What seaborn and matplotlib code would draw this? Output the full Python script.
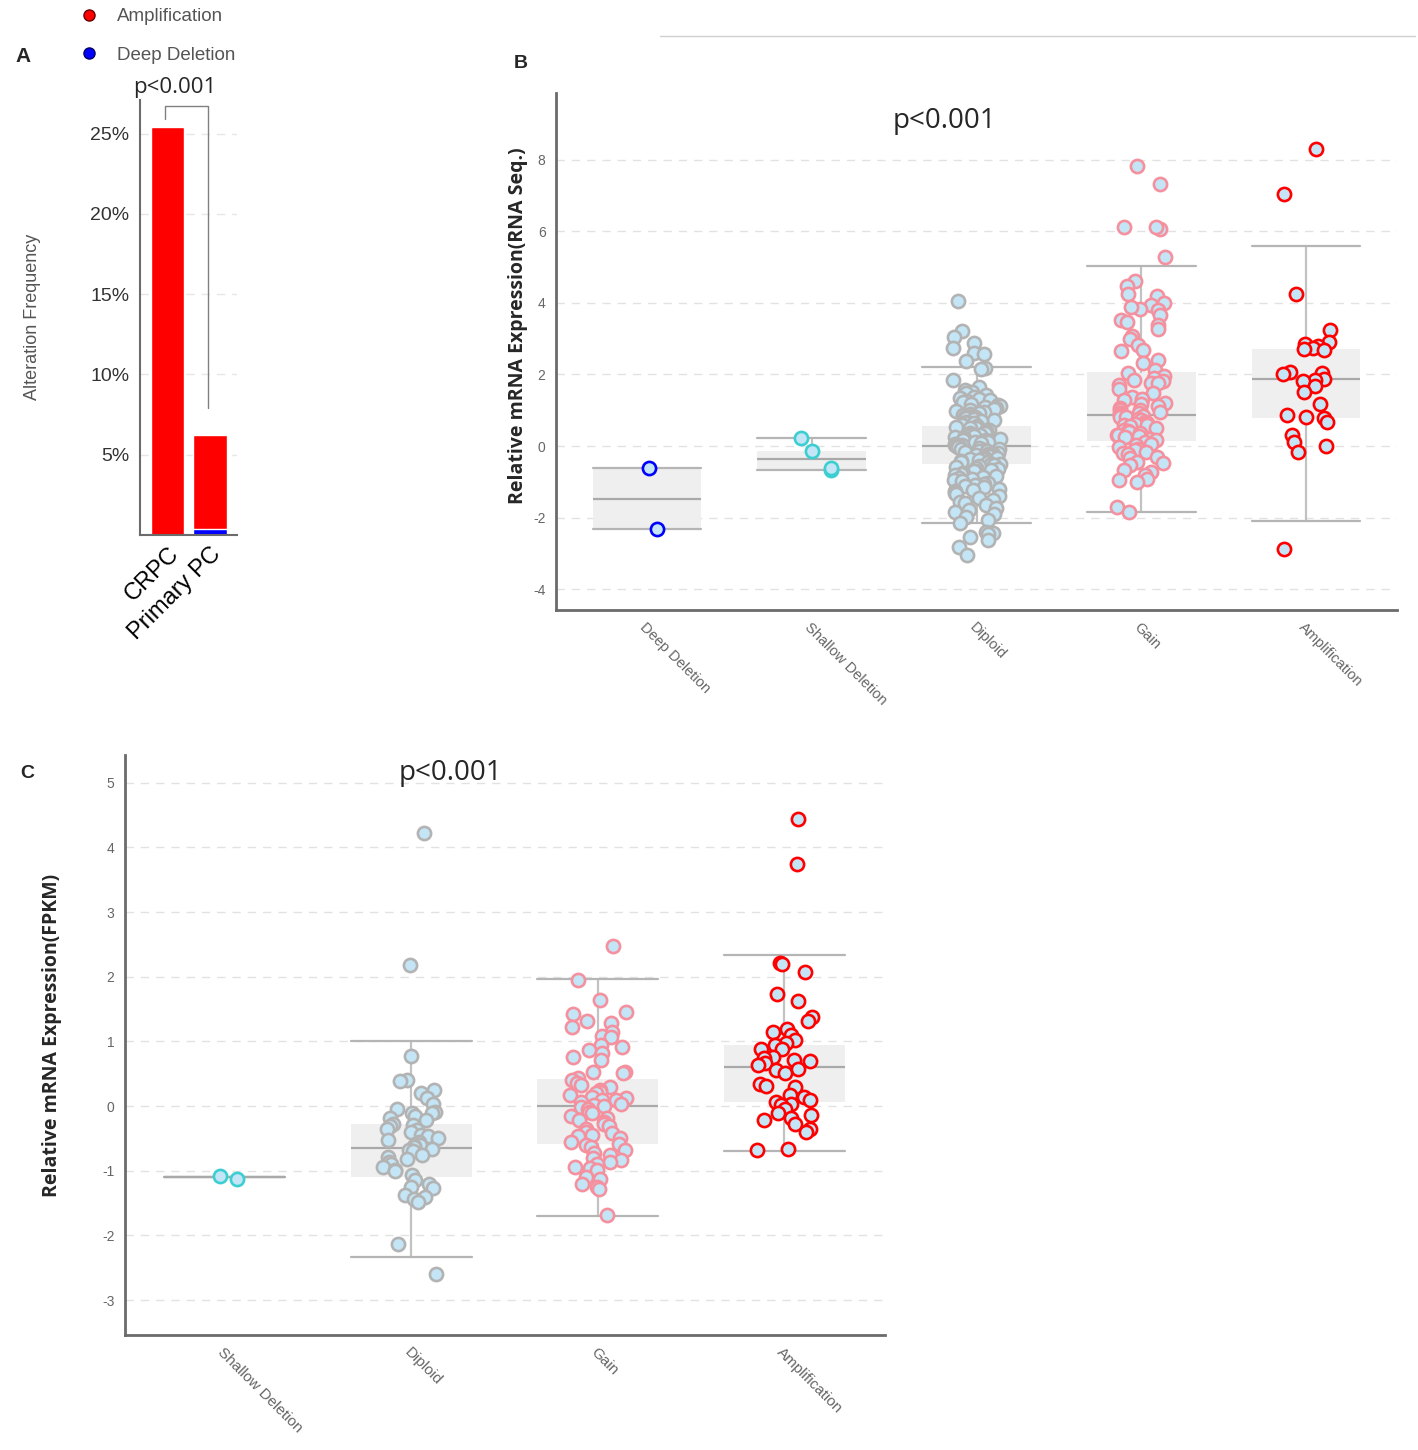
import numpy as np
import pandas as pd
import matplotlib
matplotlib.use('Agg')
import matplotlib.pyplot as plt
from matplotlib.lines import Line2D
import seaborn as sns

########## data
# Panel A - alteration frequency (%)
cohorts = ['CRPC', 'Primary PC']
amp_freq = [25.4, 5.85]
del_freq = [0.0, 0.35]

# Panel B - RNA Seq
cats_b = ['Deep Deletion', 'Shallow Deletion', 'Diploid', 'Gain', 'Amplification']
deep_b = [-0.62, -2.33]
shallow_b = [0.22, -0.13, -0.66, -0.62]
diploid_b = [4.05, 3.21, 3.05, 2.89, 2.74, 2.59, 2.57, 2.37, 2.17, 2.14, 1.84, 1.66, 1.56,
             1.5, 1.47, 1.42, 1.38, 1.35, 1.31, 1.28, 1.25, 1.22, 1.18, 1.15, 1.12, 1.1, 1.06,
             1.03, 1.0, 0.98, 0.95, 0.92, 0.9, 0.87, 0.85, 0.82, 0.8, 0.77, 0.75, 0.72, 0.7,
             0.68, 0.65, 0.63, 0.6, 0.58, 0.56, 0.53, 0.51, 0.49, 0.46, 0.44, 0.42, 0.4, 0.37,
             0.35, 0.33, 0.31, 0.29, 0.27, 0.25, 0.22, 0.2, 0.18, 0.16, 0.14, 0.12, 0.1, 0.08,
             0.06, 0.04, 0.02, 0.01, -0.01, -0.03, -0.05, -0.07, -0.09, -0.11, -0.13, -0.15,
             -0.17, -0.19, -0.21, -0.23, -0.25, -0.27, -0.29, -0.31, -0.33, -0.35, -0.37, -0.4,
             -0.42, -0.44, -0.46, -0.49, -0.51, -0.53, -0.56, -0.58, -0.61, -0.63, -0.66, -0.69,
             -0.71, -0.74, -0.77, -0.8, -0.83, -0.86, -0.89, -0.92, -0.95, -0.98, -1.02, -1.05,
             -1.08, -1.12, -1.15, -1.19, -1.23, -1.27, -1.31, -1.35, -1.4, -1.45, -1.5, -1.55,
             -1.6, -1.66, -1.72, -1.78, -1.85, -1.9, -1.97, -2.07, -2.16, -2.39, -2.44, -2.46,
             -2.53, -2.62, -2.81, -3.04]
gain_b = [7.82, 7.32, 6.12, 6.06, 6.13, 5.27, 4.6, 4.47, 4.24, 4.2, 4.0, 3.93, 3.83, 3.88,
          3.81, 3.67, 3.53, 3.46, 3.38, 3.28, 3.07, 2.99, 2.83, 2.67, 2.64, 2.4, 2.31, 2.12,
          2.05, 1.95, 1.9, 1.84, 1.81, 1.76, 1.75, 1.71, 1.58, 1.49, 1.38, 1.3, 1.28, 1.19,
          1.17, 1.12, 1.05, 1.02, 1.0, 0.95, 0.93, 0.91, 0.87, 0.85, 0.82, 0.8, 0.76, 0.73,
          0.68, 0.65, 0.61, 0.6, 0.58, 0.55, 0.49, 0.45, 0.42, 0.4, 0.35, 0.31, 0.3, 0.28,
          0.24, 0.2, 0.17, 0.12, 0.07, 0.03, -0.02, -0.08, -0.1, -0.16, -0.2, -0.22, -0.3,
          -0.34, -0.44, -0.48, -0.53, -0.67, -0.72, -0.81, -0.93, -0.95, -1.01, -1.69, -1.83]
amp_b = [8.29, 7.05, 4.24, 3.23, 2.9, 2.85, 2.8, 2.75, 2.7, 2.68, 2.06, 2.03, 2.0, 1.86,
         1.84, 1.82, 1.68, 1.51, 1.16, 0.86, 0.82, 0.77, 0.66, 0.32, 0.12, 0.0, -0.16, -2.87]
q1_b = [-2.33, -0.66, -0.5, 0.14, 0.77]
med_b = [-1.47, -0.37, 0.0, 0.87, 1.86]
q3_b = [-0.6, -0.13, 0.57, 2.07, 2.7]
lo_b = [-2.33, -0.66, -2.16, -1.83, -2.1]
hi_b = [-0.6, 0.22, 2.2, 5.03, 5.6]

# Panel C - FPKM
cats_c = ['Shallow Deletion', 'Diploid', 'Gain', 'Amplification']
shallow_c = [-1.12, -1.08]
diploid_c = [4.22, 2.18, 0.77, 0.41, 0.39, 0.25, 0.2, 0.12, 0.04, -0.04, -0.09, -0.1, -0.11,
             -0.15, -0.19, -0.22, -0.27, -0.29, -0.3, -0.35, -0.37, -0.4, -0.45, -0.47, -0.5,
             -0.52, -0.55, -0.58, -0.6, -0.62, -0.63, -0.66, -0.68, -0.7, -0.76, -0.78, -0.82,
             -0.86, -0.89, -0.94, -0.99, -1.0, -1.07, -1.15, -1.2, -1.25, -1.27, -1.38, -1.4,
             -1.43, -1.48, -2.13, -2.59]
gain_c = [2.47, 1.95, 1.64, 1.46, 1.42, 1.31, 1.28, 1.23, 1.15, 1.08, 1.07, 0.94, 0.92, 0.86,
          0.82, 0.76, 0.72, 0.53, 0.52, 0.51, 0.43, 0.4, 0.35, 0.33, 0.3, 0.25, 0.22, 0.2,
          0.17, 0.14, 0.12, 0.1, 0.09, 0.07, 0.04, 0.02, 0.0, -0.01, -0.05, -0.09, -0.11,
          -0.15, -0.19, -0.22, -0.24, -0.27, -0.3, -0.35, -0.4, -0.42, -0.45, -0.47, -0.5,
          -0.55, -0.58, -0.6, -0.63, -0.68, -0.73, -0.76, -0.8, -0.84, -0.86, -0.89, -0.94,
          -0.96, -0.99, -1.09, -1.12, -1.2, -1.25, -1.28, -1.69]
amp_c = [4.44, 3.75, 2.21, 2.2, 2.08, 1.73, 1.63, 1.38, 1.31, 1.2, 1.15, 1.1, 1.02, 0.97,
         0.94, 0.89, 0.88, 0.76, 0.74, 0.71, 0.69, 0.66, 0.63, 0.58, 0.56, 0.51, 0.34, 0.31,
         0.29, 0.17, 0.14, 0.09, 0.07, 0.04, 0.02, -0.04, -0.11, -0.14, -0.19, -0.22, -0.27,
         -0.35, -0.4, -0.66, -0.68]
q1_c = [-1.1, -1.09, -0.59, 0.07]
med_c = [-1.1, -0.645, 0.0, 0.6]
q3_c = [-1.1, -0.27, 0.42, 0.95]
lo_c = [-1.1, -2.33, -1.7, -0.69]
hi_c = [-1.1, 1.0, 1.97, 2.33]

edge_colors = {'Deep Deletion': '#0000ff', 'Shallow Deletion': '#3ccfd2', 'Diploid': '#b3b3b3',
               'Gain': '#f5909e', 'Amplification': '#ff0000'}
fill = '#c3e5f5'

sns.set_style('white')
plt.rcParams['font.family'] = ['Liberation Sans', 'DejaVu Sans']
plt.rcParams['axes.unicode_minus'] = False

W, H = 1418, 1450
fig = plt.figure(figsize=(W / 100, H / 100), dpi=100)


def fx(x):
    return x / W


def fy(y):
    return 1 - y / H


def style_axes(ax, lw=2):
    for s in ['top', 'right']:
        ax.spines[s].set_visible(False)
    for s in ['left', 'bottom']:
        ax.spines[s].set_color('#6b6b6b')
        ax.spines[s].set_linewidth(lw)
    ax.set_axisbelow(True)


def draw_expr(ax, cats, groups, q1, med, q3, lo, hi, width):
    ax.grid(True, axis='y', ls=(0, (6, 5)), color='#e2e2e2', lw=1)
    ax.grid(True, axis='x', ls=(0, (6, 5)), color='#e8eef2', lw=1)
    stats = [dict(q1=a, med=b, q3=c, whislo=d, whishi=e)
             for a, b, c, d, e in zip(q1, med, q3, lo, hi)]
    ax.bxp(stats, positions=range(len(cats)), widths=width, capwidths=width,
           patch_artist=True, showfliers=False, manage_ticks=False,
           boxprops=dict(facecolor='#efefef', edgecolor='none'),
           medianprops=dict(color='#a9a9a9', lw=1.6),
           whiskerprops=dict(color='#c2c2c2', lw=1.6),
           capprops=dict(color='#b5b5b5', lw=1.6), zorder=2)
    df = pd.DataFrame({'group': np.repeat(cats, [len(g) for g in groups]),
                       'value': np.concatenate(groups)})
    for c in cats:
        sns.stripplot(data=df[df['group'] == c], x='group', y='value', order=cats, ax=ax,
                      jitter=0.15, size=9.5, color=fill, edgecolor=edge_colors[c],
                      linewidth=1.9, zorder=3)
    ax.set_xlabel('')
    ax.set_ylabel('')
    ax.set_xticks(range(len(cats)))
    ax.set_xticklabels(cats, rotation=-45, ha='left', va='top', rotation_mode='anchor',
                       fontsize=10.5, color='#666666')
    ax.tick_params(axis='both', length=4, width=1, color='#8a8a8a', labelcolor='#666666')
    ax.tick_params(axis='y', labelsize=10)
    style_axes(ax)


np.random.seed(3)

########## Panel A
ax_a = fig.add_axes([fx(140), fy(535), fx(97), (535 - 100) / H])
df_a = pd.DataFrame({'cohort': cohorts, 'total': np.add(amp_freq, del_freq), 'deep': del_freq})
ax_a.grid(True, axis='y', ls=(0, (6, 5)), color='#e6e6e6', lw=1)
sns.barplot(data=df_a, x='cohort', y='total', color='#ff0000', saturation=1, width=0.79, ax=ax_a)
sns.barplot(data=df_a, x='cohort', y='deep', color='#0000ff', saturation=1, width=0.79, ax=ax_a)
ax_a.set_xlim(-0.65, 1.64)
ax_a.set_ylim(0, 27.1)
ax_a.set_yticks([5, 10, 15, 20, 25])
ax_a.set_yticklabels(['5%', '10%', '15%', '20%', '25%'], fontsize=14, color='#333333')
ax_a.set_xticks([0, 1])
ax_a.set_xticklabels(cohorts, rotation=45, ha='right', va='top', rotation_mode='anchor',
                     fontsize=17, color='black')
ax_a.set_xlabel('')
ax_a.set_ylabel('')
ax_a.tick_params(axis='y', length=4, width=1, color='#777777')
ax_a.tick_params(axis='x', length=0, pad=6)
style_axes(ax_a, lw=1.5)
ax_a.plot([-0.06, -0.06, 0.95, 0.95], [25.9, 26.7, 26.7, 7.9], color='#808080', lw=1,
          clip_on=False)

fig.text(fx(33), fy(317), 'Alteration Frequency', rotation=90, ha='center', va='center',
         fontsize=13, color='#555555', family=['Liberation Sans Narrow', 'Liberation Sans'])
fig.text(fx(175), fy(87), 'p<0.001', ha='center', va='center', fontsize=16,
         family=['Open Sans', 'DejaVu Sans'])
fig.text(fx(23), fy(57), 'A', ha='center', va='center', fontsize=15, fontweight='bold')

handles = [Line2D([0], [0], marker='o', ls='none', markersize=8, mfc='#ff0000', mec='#660000'),
           Line2D([0], [0], marker='o', ls='none', markersize=8, mfc='#0000ff', mec='#000066')]
fig.legend(handles, ['Amplification', 'Deep Deletion'], loc='center left',
           bbox_to_anchor=(fx(70), fy(36)), frameon=False, fontsize=13.5, labelcolor='#555555',
           handlelength=1, handletextpad=1.0, borderpad=0, labelspacing=1.15)

########## Panel B
ax_b = fig.add_axes([fx(556), fy(610), fx(1397 - 556), (610 - 93) / H])
draw_expr(ax_b, cats_b, [deep_b, shallow_b, diploid_b, gain_b, amp_b],
          q1_b, med_b, q3_b, lo_b, hi_b, 0.66)
ax_b.set_xlim(-0.552, 4.552)
ax_b.set_ylim(-4.58, 9.86)
ax_b.set_yticks([-4, -2, 0, 2, 4, 6, 8])
fig.text(fx(518), fy(326), 'Relative mRNA Expression(RNA Seq.)', rotation=90, ha='center',
         va='center', fontsize=14, fontweight='bold', family=['Open Sans', 'DejaVu Sans'])
fig.text(fx(944), fy(121), 'p<0.001', ha='center', va='center', fontsize=20,
         family=['Open Sans', 'DejaVu Sans'])
fig.text(fx(521), fy(64), 'B', ha='center', va='center', fontsize=14, fontweight='bold')
fig.add_artist(Line2D([fx(660), fx(1415)], [fy(36), fy(36)], color='#d0d0d0', lw=1))

########## Panel C
ax_c = fig.add_axes([fx(125), fy(1335), fx(885 - 125), (1335 - 755) / H])
draw_expr(ax_c, cats_c, [shallow_c, diploid_c, gain_c, amp_c],
          q1_c, med_c, q3_c, lo_c, hi_c, 0.65)
ax_c.set_xlim(-0.535, 3.54)
ax_c.set_ylim(-3.54, 5.43)
ax_c.set_yticks([-3, -2, -1, 0, 1, 2, 3, 4, 5])
ax_c.set_xticklabels(cats_c, rotation=-45, ha='left', va='top', rotation_mode='anchor',
                     fontsize=11, color='#666666')
fig.text(fx(52), fy(1035), 'Relative mRNA Expression(FPKM)', rotation=90, ha='center',
         va='center', fontsize=14, fontweight='bold', family=['Open Sans', 'DejaVu Sans'])
fig.text(fx(450), fy(773), 'p<0.001', ha='center', va='center', fontsize=20,
         family=['Open Sans', 'DejaVu Sans'])
fig.text(fx(27), fy(773), 'C', ha='center', va='center', fontsize=14, fontweight='bold')

fig.savefig('out.png', dpi=100)
